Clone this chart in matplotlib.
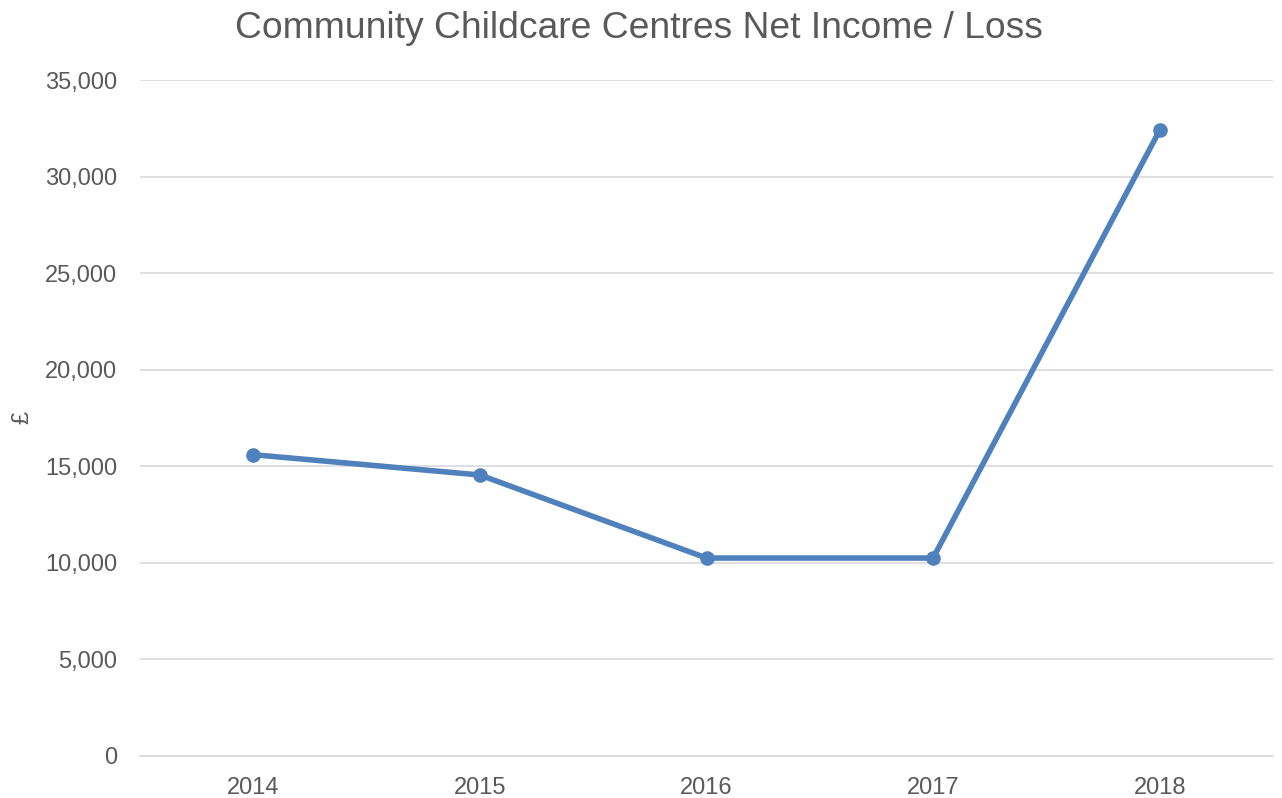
import matplotlib
matplotlib.use('agg')
import matplotlib.pyplot as plt
from matplotlib.ticker import FuncFormatter

years = ['2014', '2015', '2016', '2017', '2018']
net_income = [15600, 14550, 10250, 10250, 32400]

plt.rcParams['font.family'] = ['Liberation Sans', 'DejaVu Sans']
txt = '#595959'

fig = plt.figure(figsize=(12.82, 7.98), dpi=100)
ax = fig.add_axes([140/1282, 1-756/798, (1273-140)/1282, (756-80)/798])

x = list(range(len(years)))
ax.plot(x, net_income, color='#4F81BD', lw=4, marker='o', ms=9.5, solid_capstyle='round', zorder=3)

ax.set_xlim(-0.5, len(years)-0.5)
ax.set_ylim(0, 35000)
ax.set_yticks(range(0, 35001, 5000))
ax.yaxis.set_major_formatter(FuncFormatter(lambda v, p: f'{int(v):,}'))
ax.set_xticks(x)
ax.set_xticklabels(years)
ax.grid(axis='y', color='#D9D9D9', lw=1.2)
ax.set_axisbelow(True)
for s in ['top', 'right', 'left']:
    ax.spines[s].set_visible(False)
ax.spines['bottom'].set_color('#D9D9D9')
ax.spines['bottom'].set_linewidth(1.2)
ax.tick_params(axis='both', length=0, labelsize=17, colors=txt)
ax.tick_params(axis='y', pad=16.5)
ax.tick_params(axis='x', pad=15)
ax.set_ylabel('£', fontsize=17, color=txt, labelpad=8)
fig.text(639/1282, 1-28/798, 'Community Childcare Centres Net Income / Loss', ha='center', va='center',
         fontsize=26.8, color=txt)

fig.savefig('out.png', dpi=100)
